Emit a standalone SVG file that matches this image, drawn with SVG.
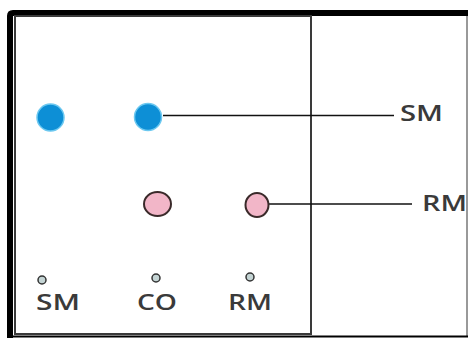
<svg xmlns="http://www.w3.org/2000/svg" width="469" height="338" viewBox="0 0 469 338">
  <defs>
    <style>
      .lbl { font-family: "Open Sans", "Liberation Sans", sans-serif; font-size: 21px; font-weight: 600; fill: #3a3a3a; }
      .conn { stroke: #111; stroke-width: 1.5; fill: none; }
      .blue { fill: #0d8fd6; stroke: #6cc8f0; stroke-width: 1.5; }
      .pink { fill: #f2b6c8; stroke: #3a2a2a; stroke-width: 2; }
      .spot { fill: #c4d4d4; stroke: #333; stroke-width: 1.5; }
    </style>
  </defs>
  <rect width="469" height="338" fill="#ffffff"/>
  <g id="frame">
    <path d="M7,338 V16 Q7,10 13,10 H468 V16 H13 V338 Z" fill="#000"/>
    <line x1="467" y1="16" x2="467" y2="336" stroke="#777" stroke-width="1.5"/>
    <line x1="13" y1="336.5" x2="468" y2="336.5" stroke="#000" stroke-width="2"/>
  </g>
  <g id="plate">
    <rect x="15" y="16" width="296" height="318" fill="none" stroke="#3a3a3a" stroke-width="2"/>
  </g>
  <g id="connectors">
    <line class="conn" x1="163" y1="115.5" x2="394" y2="115.5"/>
    <line class="conn" x1="269" y1="204" x2="412" y2="204"/>
  </g>
  <g id="spot-sm-blue"><circle class="blue" cx="50.5" cy="117.5" r="13.5"/></g>
  <g id="spot-co-blue"><circle class="blue" cx="148" cy="117" r="13.5"/></g>
  <g id="spot-co-pink"><ellipse class="pink" cx="157.5" cy="204" rx="13.5" ry="12"/></g>
  <g id="spot-rm-pink"><ellipse class="pink" cx="257" cy="205" rx="11.5" ry="12"/></g>
  <g id="origin-sm"><circle class="spot" cx="42" cy="280" r="4"/></g>
  <g id="origin-co"><circle class="spot" cx="156" cy="278" r="4"/></g>
  <g id="origin-rm"><circle class="spot" cx="250" cy="277" r="4"/></g>
  <g id="labels">
    <text class="lbl" x="36" y="310" textLength="44" lengthAdjust="spacingAndGlyphs">SM</text>
    <text class="lbl" x="137" y="310" textLength="40" lengthAdjust="spacingAndGlyphs">CO</text>
    <text class="lbl" x="228" y="310" textLength="44" lengthAdjust="spacingAndGlyphs">RM</text>
    <text class="lbl" x="400" y="121" textLength="43" lengthAdjust="spacingAndGlyphs">SM</text>
    <text class="lbl" x="422" y="211" textLength="45" lengthAdjust="spacingAndGlyphs">RM</text>
  </g>
</svg>
